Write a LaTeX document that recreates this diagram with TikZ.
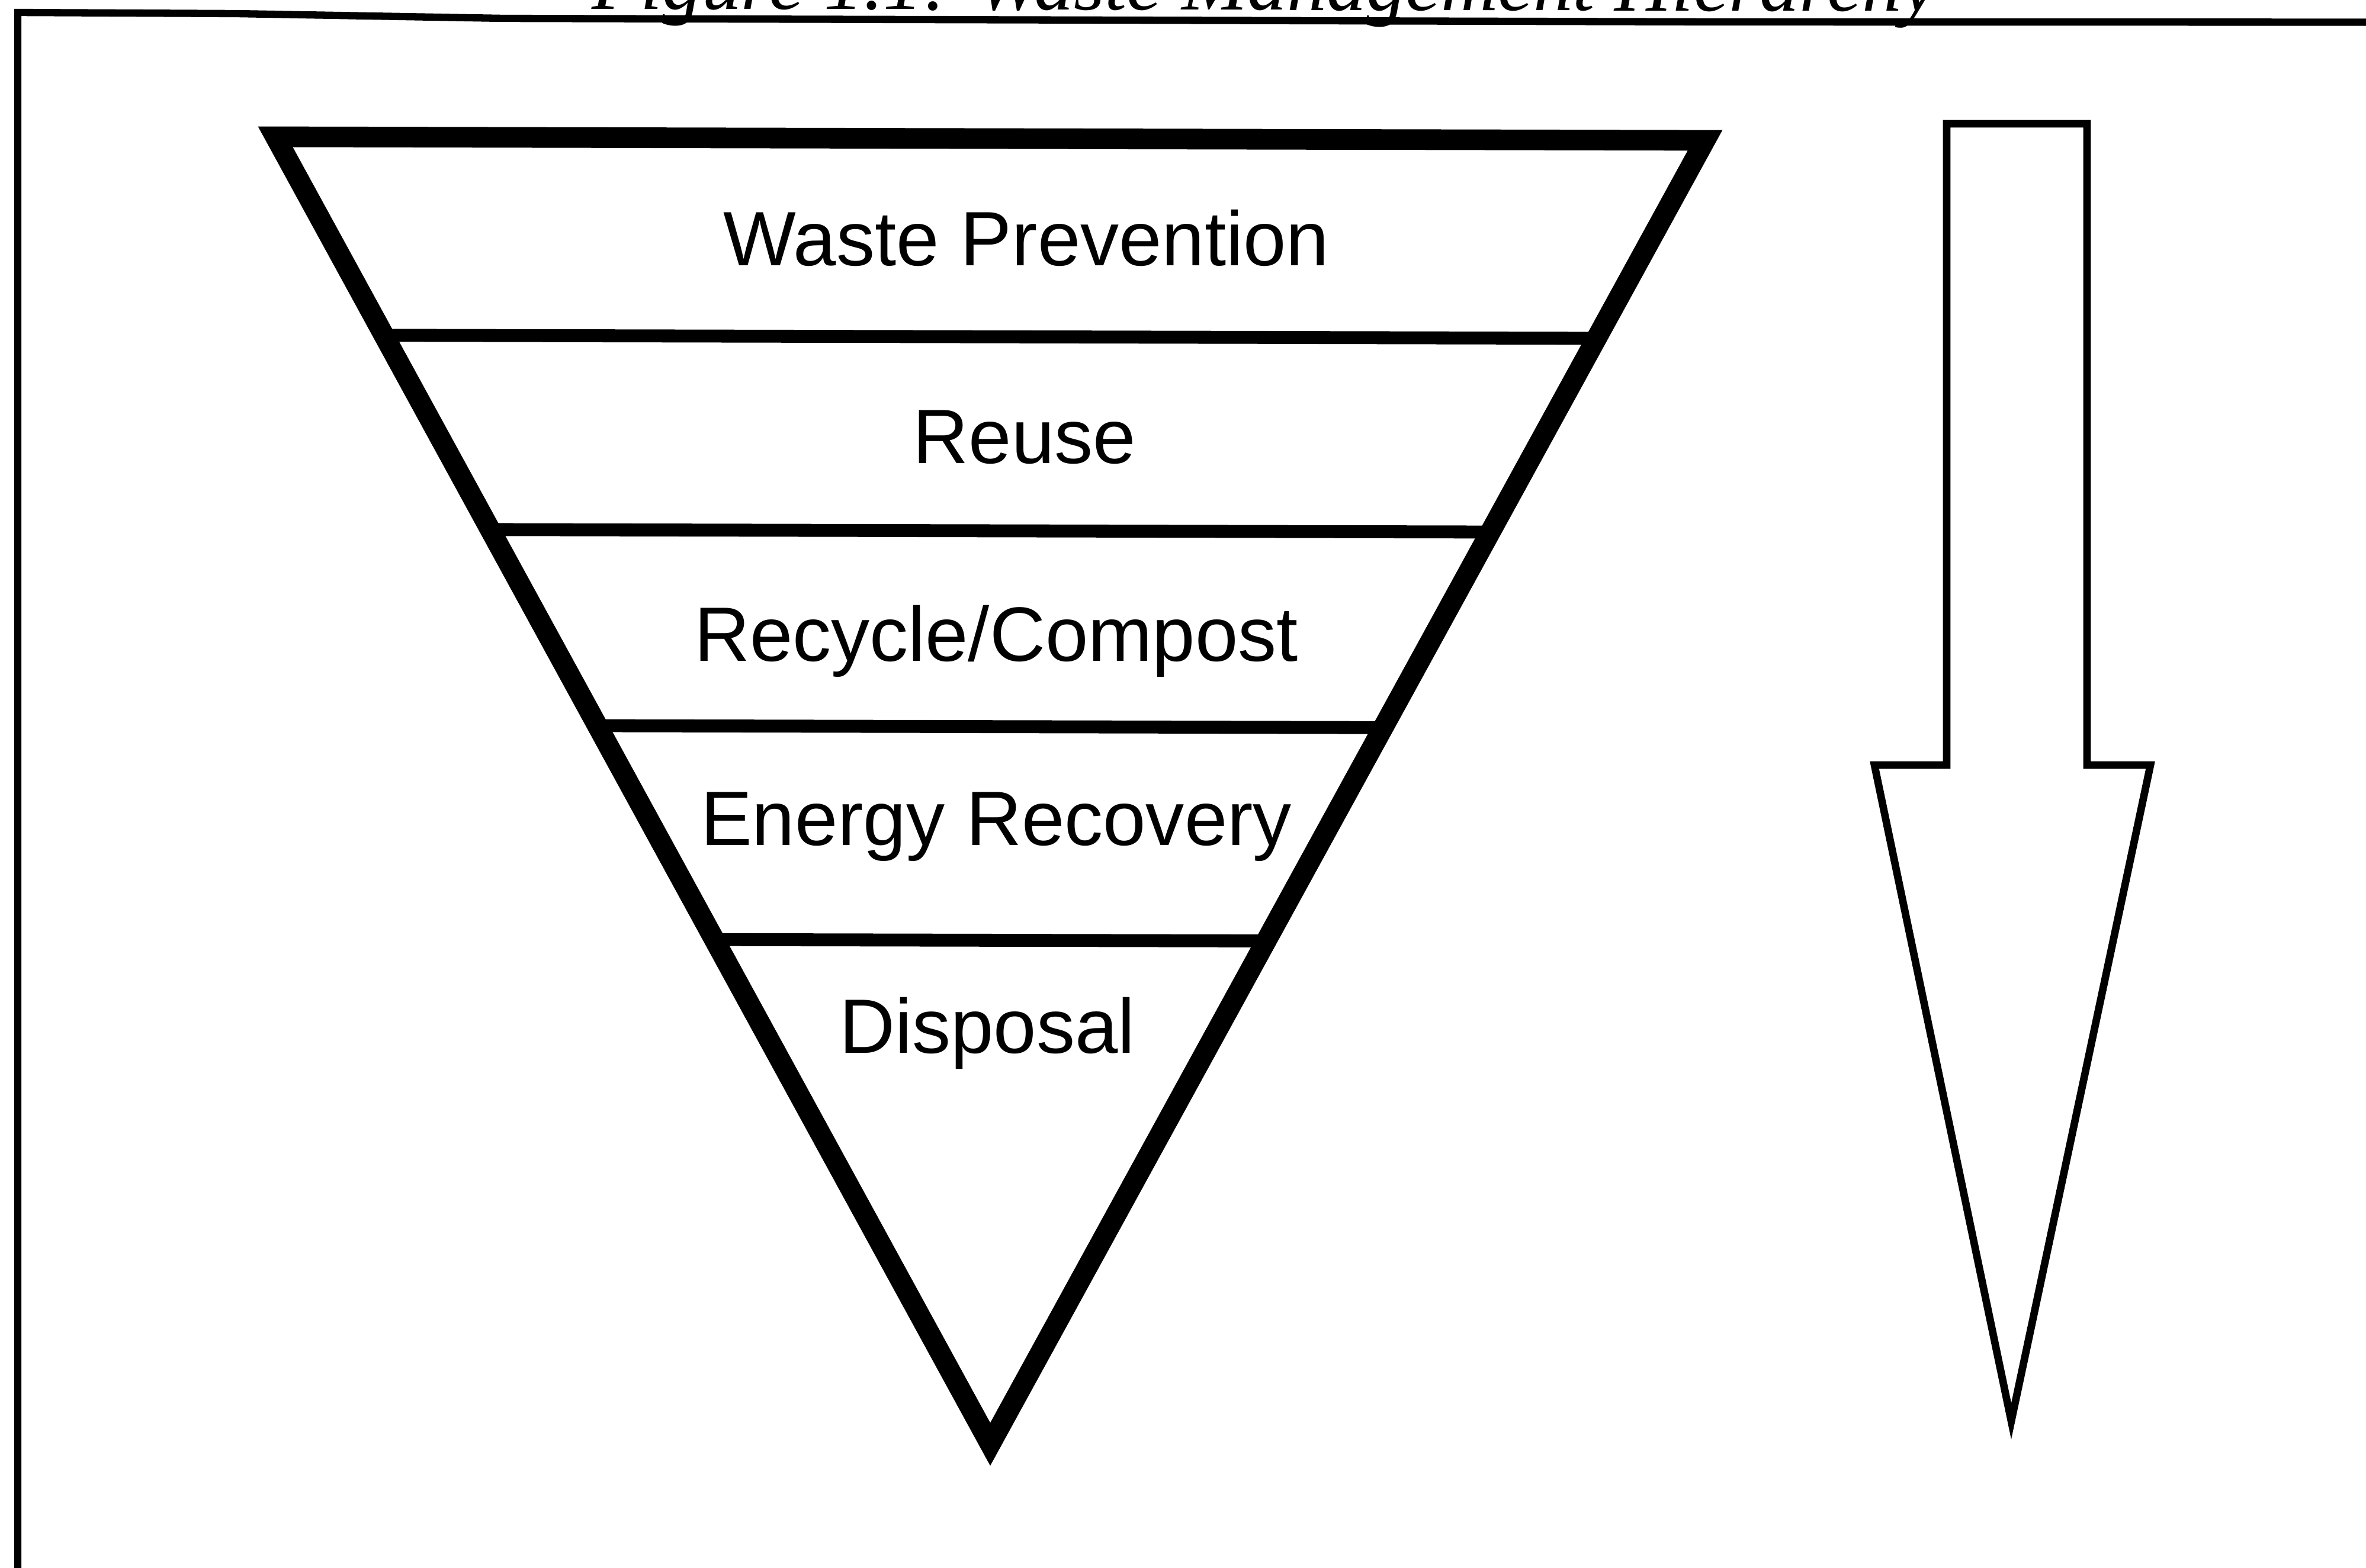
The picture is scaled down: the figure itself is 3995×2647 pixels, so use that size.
\documentclass[tikz,border=0pt]{standalone}
\usepackage{fontspec}
\setmainfont{Liberation Sans}
\newfontfamily\capfont{Liberation Serif}
\usetikzlibrary{calc}
\begin{document}
\begin{tikzpicture}[x=0.01cm,y=-0.01cm,
  tri/.style={line width=9.9pt, line join=miter, miter limit=10},
  divider/.style={line width=6.2pt},
  lbl/.style={font=\fontsize{37}{44}\selectfont, anchor=base, inner sep=0pt},
  frameline/.style={line width=3.5pt, line join=miter},
  bigarrow/.style={line width=3.6pt, line join=miter, miter limit=10}]
\useasboundingbox (0,0) rectangle (3995,2647);
% caption (cut off at the top)
\node[anchor=base, inner sep=0pt, rotate=-0.1, font=\capfont\itshape\fontsize{38}{44}\selectfont] (cap) at (2135,17) {Figure 1.1: Waste Management Hierarchy};
% frame (only its top and left sides show)
\coordinate (F0) at (30,2750);
\coordinate (F1) at (30,21);
\coordinate (F2) at (400,23);
\coordinate (F3) at (850,31);
\coordinate (F4) at (1900,34);
\coordinate (F5) at (2900,37);
\coordinate (F6) at (4100,37.5);
\draw[frameline] (F0) -- (F1) -- (F2) -- (F3) -- (F4) -- (F5) -- (F6);
% inverted triangle
\coordinate (TL) at (465,231);
\coordinate (TR) at (2879,237);
\coordinate (AP) at (1672,2439);
\draw[tri] (TL) -- (TR) -- (AP) -- cycle;
% dividers
\coordinate (d1l) at ($(TL)!0.1518!(AP)$); \coordinate (d1r) at ($(TR)!0.1518!(AP)$);
\coordinate (d2l) at ($(TL)!0.3004!(AP)$); \coordinate (d2r) at ($(TR)!0.3004!(AP)$);
\coordinate (d3l) at ($(TL)!0.4504!(AP)$); \coordinate (d3r) at ($(TR)!0.4504!(AP)$);
\coordinate (d4l) at ($(TL)!0.6140!(AP)$); \coordinate (d4r) at ($(TR)!0.6140!(AP)$);
\draw[divider] (d1l) -- (d1r);
\draw[divider] (d2l) -- (d2r);
\draw[divider] (d3l) -- (d3r);
\draw[divider] (d4l) -- (d4r);
% labels
\node[lbl] (l1) at (1733,448) {Waste Prevention};
\node[lbl] (l2) at (1730,782) {Reuse};
\node[lbl] (l3) at (1682,1116) {Recycle/Compost};
\node[lbl] (l4) at (1682,1427) {Energy Recovery};
\node[lbl] (l5) at (1667,1778) {Disposal};
% block arrow
\coordinate (a1) at (3287,209);
\coordinate (a2) at (3524,209);
\coordinate (a3) at (3524,1292);
\coordinate (a4) at (3631,1292);
\coordinate (a5) at (3396,2400);
\coordinate (a6) at (3165,1292);
\coordinate (a7) at (3287,1292);
\draw[bigarrow] (a1) -- (a2) -- (a3) -- (a4) -- (a5) -- (a6) -- (a7) -- cycle;
\end{tikzpicture}
\end{document}
